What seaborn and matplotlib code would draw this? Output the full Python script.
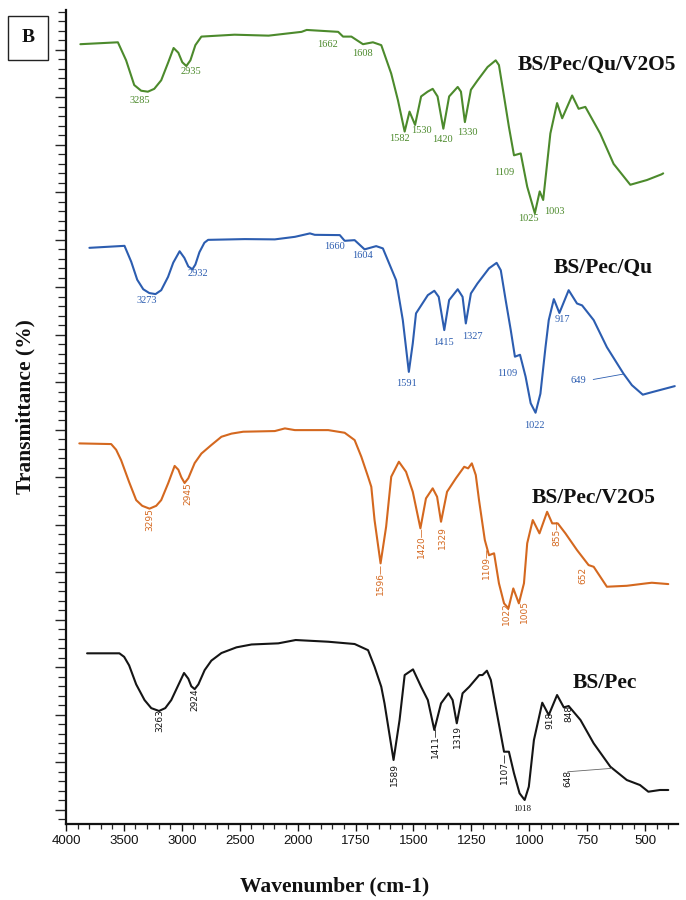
import numpy as np
import pandas as pd
import matplotlib
matplotlib.use("Agg")
import matplotlib.pyplot as plt
from matplotlib.ticker import FixedLocator, NullFormatter
from matplotlib.patches import Rectangle
import seaborn as sns

# ---------------- data (y in stacked plot units) ----------------
wn_qu_v2o5 = [3876, 3552, 3481, 3411, 3351, 3293, 3238, 3178, 3117, 3071, 3030, 2996, 2961, 2926,
              2883, 2831, 2545, 2251, 1983, 1961, 1825, 1804,
              1768, 1718, 1675, 1639, 1596, 1567, 1538, 1517, 1493, 1467, 1439, 1417, 1396, 1371,
              1346, 1309, 1295, 1278, 1252, 1223, 1180, 1145, 1131, 1109, 1088, 1066, 1037, 1009,
              976, 955, 940, 909, 880, 858, 815, 787, 758, 694, 636, 564, 492, 429, 422]
t_qu_v2o5 = [82.1, 82.3, 80.4, 77.8, 77.2, 77.1, 77.4, 78.3, 80.2, 81.7, 81.2, 80.2, 79.8, 80.4,
             82.0, 82.9, 83.1, 83.0, 83.4, 83.6, 83.4, 82.9,
             82.9, 82.1, 82.3, 82.0, 79.0, 76.2, 72.9, 75.0, 73.6, 76.6, 77.1, 77.4, 76.6, 73.2,
             76.6, 77.6, 77.1, 73.9, 77.3, 78.3, 79.7, 80.4, 79.9, 76.6, 73.4, 70.4, 70.6, 67.1,
             64.3, 66.6, 65.7, 72.7, 75.9, 74.3, 76.7, 75.3, 75.5, 72.7, 69.5, 67.3, 67.8, 68.4, 68.5]

wn_qu = [3798, 3495, 3437, 3385, 3333, 3281, 3227, 3178, 3119, 3074, 3019, 2978, 2944, 2909, 2883,
         2848, 2805, 2773, 2456, 2197, 2023, 1947, 1926,
         1818, 1797, 1754, 1711, 1661, 1632, 1575, 1546, 1520, 1503, 1489, 1438, 1410, 1391, 1367,
         1346, 1309, 1288, 1274, 1252, 1224, 1174, 1141, 1123, 1102, 1080, 1062, 1040, 1016, 994,
         973, 952, 930, 916, 894, 870, 830, 794, 772, 722, 665, 593, 557, 510, 465, 372]
t_qu = [60.66, 60.87, 59.2, 57.3, 56.3, 55.9, 55.79, 56.2, 57.6, 59.1, 60.3, 59.6, 58.7, 58.4, 58.9,
        60.2, 61.2, 61.5, 61.58, 61.55, 61.82, 62.18, 62.03,
        62.0, 61.4, 61.47, 60.5, 60.84, 60.6, 57.26, 53.05, 47.6, 50.6, 53.76, 55.68,
        56.14, 55.5, 52.0, 55.16, 56.3, 55.5, 52.7, 55.86, 56.9, 58.5, 59.08, 58.3, 55.16, 52.0,
        49.2, 49.4, 47.1, 44.3, 43.3, 45.3, 50.2, 53.05, 55.26, 53.8, 56.2, 54.8, 54.6, 53.05,
        50.2, 47.4, 46.2, 45.2, 45.5, 46.1]

wn_v2o5 = [3885, 3610, 3567, 3524, 3455, 3394, 3342, 3279, 3221, 3178, 3117, 3062, 3030, 3004, 2976,
           2944, 2889, 2831, 2745, 2658, 2571, 2470, 2197, 2110, 2024,
           1868, 1797, 1754, 1725, 1696, 1682, 1668, 1642, 1618, 1596, 1563, 1532, 1503, 1470, 1446,
           1417, 1398, 1381, 1355, 1317, 1281, 1264, 1248, 1231, 1217, 1192, 1174, 1152, 1131, 1109,
           1090, 1069, 1045, 1023, 1009, 985, 956, 923, 901, 877, 844, 794, 744, 722, 665, 579, 493,
           471, 400]
t_v2o5 = [40.07, 40.0, 39.4, 38.3, 36.0, 34.1, 33.5, 33.2, 33.5, 34.1, 35.9, 37.7, 37.3, 36.5, 35.9,
          36.4, 38.0, 39.0, 39.9, 40.77, 41.1, 41.3, 41.37, 41.65,
          41.47, 41.47, 41.19, 40.42, 38.66, 36.56, 35.5, 32.0, 27.44, 31.3, 36.56, 38.14, 37.08,
          34.98, 31.13, 34.28, 35.34, 34.45, 31.82, 34.98, 36.39, 37.61, 37.44, 37.97, 36.74, 34.1,
          29.9, 28.3, 28.5, 25.34, 23.23, 22.7, 24.8, 23.23, 25.34, 29.55, 32.0, 30.6, 32.87, 31.65,
          31.65, 30.6, 28.84, 27.26, 27.08, 24.98, 25.08, 25.34, 25.4, 25.26]

wn_pec = [3818, 3539, 3498, 3455, 3394, 3322, 3264, 3197, 3143, 3091, 3039, 2981, 2944, 2918, 2889,
          2857, 2803, 2745, 2658, 2528, 2398, 2167, 2017, 1868, 1754,
          1696, 1668, 1639, 1625, 1586, 1560, 1538, 1502, 1467, 1438, 1410, 1381, 1349, 1331, 1313,
          1288, 1259, 1216, 1202, 1183, 1166, 1145, 1109, 1088, 1066, 1042, 1020, 1002, 980, 944,
          916, 880, 851, 830, 779, 722, 650, 579, 522, 486, 436, 400]
t_pec = [17.97, 17.97, 17.6, 16.7, 14.7, 13.05, 12.2, 11.9, 12.2, 13.05, 14.4, 15.9, 15.3, 14.5, 14.2,
         14.7, 16.2, 17.2, 18.0, 18.6, 18.9, 19.02, 19.37,
         19.19, 18.95, 18.3, 16.56, 14.45, 12.7, 6.74, 10.95, 15.68, 16.28, 14.45, 13.05, 9.9, 12.7,
         13.76, 13.05, 10.6, 13.76, 14.45, 15.68, 15.68, 16.14, 15.16, 12.35, 7.61, 7.61, 5.34, 3.23,
         2.53, 3.93, 8.84, 12.77, 11.47, 13.58, 12.28, 12.42, 10.95, 8.49, 6.03, 4.63, 4.1, 3.4,
         3.58, 3.58]

samples = ["BS/Pec/Qu/V2O5", "BS/Pec/Qu", "BS/Pec/V2O5", "BS/Pec"]
colors = ["#4c8a2c", "#2c5db0", "#d4681f", "#151515"]

x_ticks = [4000, 3500, 3000, 2500, 2000, 1750, 1500, 1250, 1000, 750, 500]

# peak labels: (text, wavenumber, y)
peaks_qu_v2o5 = [("3285", 3359, 76.2), ("2935", 2918, 79.26), ("1662", 1871, 82.07),
                 ("1608", 1722, 81.13), ("1582", 1562, 72.2), ("1530", 1464, 73.05),
                 ("1420", 1374, 72.1), ("1330", 1266, 72.77), ("1109", 1109, 68.6),
                 ("1025", 1002, 63.76), ("1003", 891, 64.5)]
peaks_qu = [("3273", 3299, 55.08), ("2932", 2860, 57.97), ("1660", 1840, 60.84),
            ("1604", 1718, 59.82), ("1591", 1529, 46.39), ("1415", 1370, 50.7),
            ("1327", 1245, 51.37), ("1109", 1095, 47.44), ("1022", 977, 42.0),
            ("917", 858, 53.13), ("649", 787, 46.74)]
peaks_v2o5 = [("3295", 3273, 32.1), ("2945", 2946, 34.8), ("1596—", 1642, 25.8),
              ("1420—", 1467, 29.7), ("1329", 1377, 30.2), ("1109—", 1184, 27.44),
              ("1022", 1098, 22.2), ("1005", 1020, 22.4), ("855—", 880, 30.6), ("652", 768, 26.2)]
peaks_pec = [("3263", 3192, 10.9), ("2924", 2889, 13.1), ("1589", 1582, 5.16),
             ("1411—", 1403, 8.66), ("1319", 1309, 9.19), ("1107—", 1109, 5.86),
             ("918", 909, 10.95), ("848", 830, 11.65), ("648", 834, 4.81)]

# ---------------- build frame ----------------
frames = []
for name, w, t in zip(samples, [wn_qu_v2o5, wn_qu, wn_v2o5, wn_pec],
                      [t_qu_v2o5, t_qu, t_v2o5, t_pec]):
    frames.append(pd.DataFrame({"wavenumber": w, "T": t, "sample": name}))
df = pd.concat(frames, ignore_index=True)

sns.set_theme(style="ticks")
plt.rcParams["font.family"] = ["Liberation Sans", "DejaVu Sans"]

fig = plt.figure(figsize=(6.86, 9.0), dpi=100)
ax = fig.add_axes([66 / 686, 1 - 824 / 900, (678 - 66) / 686, (824 - 10) / 900])


def fwd(w):
    w = np.asarray(w, dtype=float)
    return np.where(w >= 2000, w / 500.0, 4.0 + (w - 2000.0) / 250.0)


def inv(p):
    p = np.asarray(p, dtype=float)
    return np.where(p >= 4, p * 500.0, 2000.0 + (p - 4.0) * 250.0)


ax.set_xscale("function", functions=(fwd, inv))

sns.lineplot(data=df, x="wavenumber", y="T", hue="sample", hue_order=samples,
             palette=colors, estimator=None, sort=True, legend=False, linewidth=1.5, ax=ax)
for ln in ax.get_lines():
    ln.set_solid_joinstyle("round")

ax.set_xlim(4000, 358)
ax.set_ylim(0, 85.7)

ax.xaxis.set_major_locator(FixedLocator(x_ticks))
minor_x = list(np.arange(4000, 2000, -100)) + list(np.arange(2000, 349, -50))
ax.xaxis.set_minor_locator(FixedLocator(minor_x))
ax.set_xticklabels([str(v) for v in x_ticks])
ax.xaxis.set_minor_formatter(NullFormatter())

ax.yaxis.set_major_locator(FixedLocator(np.arange(1.5, 85.7, 5)))
ax.yaxis.set_minor_locator(FixedLocator(np.arange(0.5, 85.7, 1)))
ax.yaxis.set_major_formatter(NullFormatter())

ax.tick_params(axis="x", which="major", length=5, width=1, direction="out", labelsize=9.5,
               pad=3, colors="#111111")
ax.tick_params(axis="x", which="minor", length=3.5, width=0.9, direction="out")
ax.tick_params(axis="y", which="major", length=8, width=1, direction="out")
ax.tick_params(axis="y", which="minor", length=6, width=0.9, direction="out")

for s in ["top", "right"]:
    ax.spines[s].set_visible(False)
for s in ["left", "bottom"]:
    ax.spines[s].set_linewidth(1.6)
    ax.spines[s].set_color("#111111")
ax.set_xlabel("")
ax.set_ylabel("")

# peak labels
serif = ["Liberation Serif", "DejaVu Serif"]
narrow = ["Liberation Sans Narrow", "DejaVu Sans"]
for txt, w, y in peaks_qu_v2o5:
    ax.text(w, y, txt, color=colors[0], fontsize=7.5, family=serif, ha="center", va="center")
for txt, w, y in peaks_qu:
    ax.text(w, y, txt, color=colors[1], fontsize=7.5, family=serif, ha="center", va="center")
for txt, w, y in peaks_v2o5:
    ax.text(w, y, txt, color=colors[2], fontsize=6.5, family=narrow, ha="center", va="center",
            rotation=90)
for txt, w, y in peaks_pec:
    ax.text(w, y, txt, color=colors[3], fontsize=6.5, family=narrow, ha="center", va="center",
            rotation=90)
ax.text(1030, 1.58, "1018", color=colors[3], fontsize=6.5, family=serif, ha="center", va="center")

# leader lines
ax.plot([724, 594], [46.8, 47.37], color=colors[1], lw=0.6)
ax.plot([834, 644], [5.5, 5.86], color="#666666", lw=0.6)

# sample names
name_pos = [(708, 79.97), (680, 58.5), (722, 34.3), (672, 14.8)]
for name, (w, y) in zip(samples, name_pos):
    ax.text(w, y, name, fontsize=15.5, fontweight="bold", family=serif, color="#111111",
            ha="center", va="center")

# axis titles
fig.text(25 / 686, 1 - 407 / 900, "Transmittance (%)", rotation=90, fontsize=15.5,
         fontweight="bold", family=serif, ha="center", va="center", color="#111111")
fig.text(335 / 686, 1 - 886 / 900, "Wavenumber (cm-1)", fontsize=15.5, fontweight="bold",
         family=serif, ha="center", va="center", color="#111111")

# panel letter box
fig.add_artist(Rectangle((8 / 686, 1 - 60 / 900), 40 / 686, 44 / 900, transform=fig.transFigure,
                         fill=False, lw=1.0, edgecolor="#222222"))
fig.text(28 / 686, 1 - 38 / 900, "B", fontsize=14, fontweight="bold", family=serif,
         ha="center", va="center", color="#111111")

fig.savefig("out.png", dpi=100, facecolor="white")
